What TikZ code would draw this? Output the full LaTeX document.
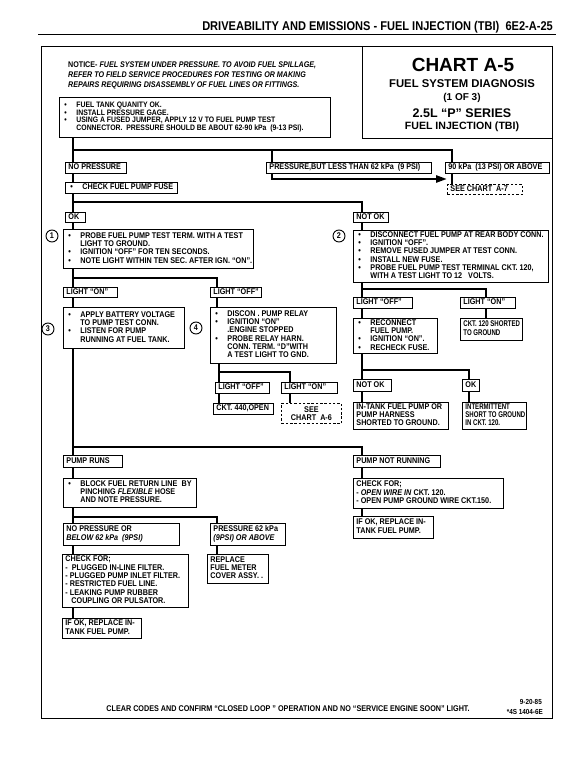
\documentclass[tikz,border=0pt]{standalone}
\usepackage{fontspec}
\usetikzlibrary{arrows.meta}
\newfontfamily\cf{Liberation Sans}[FakeStretch=0.87,Ligatures=TeX]
\newfontfamily\cfn{Liberation Sans}[FakeStretch=0.73,Ligatures=TeX]
\newfontfamily\tf{Liberation Sans}[Ligatures=TeX]
\pgfdeclarelayer{bg}
\pgfsetlayers{bg,main}
\newcommand\bu{\makebox[14pt][l]{\hspace{2pt}\textbullet}}
\newcommand\ind{\hspace*{14pt}}
\newcommand\bx[7][]{\pgfmathsetmacro\tw{#5-6}\node[box,minimum width=#5pt,minimum height=#6pt,#1] (#2) at (#3,#4) {\makebox[\tw pt][l]{\begin{tabular}{@{}l@{}}#7\end{tabular}}};}
\begin{document}
\begin{tikzpicture}[x=1pt,y=-1pt,
  box/.style={draw,line width=0.9pt,fill=white,anchor=north west,inner xsep=3pt,inner ysep=1pt,font=\cf\bfseries\fontsize{8.3}{8.3}\selectfont},
  dbox/.style={dash pattern=on 2.5pt off 1.8pt},
  flow/.style={line width=2.4pt},
  circ/.style={draw,circle,line width=0.9pt,fill=white,minimum size=12pt,inner sep=0pt,font=\cf\bfseries\fontsize{8.3}{8.3}\selectfont},
  ttl/.style={anchor=center,inner sep=0pt}]
\useasboundingbox (0,0) rectangle (576,768);
% header
\node[anchor=base east,inner sep=0pt,font=\cf\bfseries\fontsize{12.7}{12.7}\selectfont] (hdr) at (553,31) {DRIVEABILITY AND EMISSIONS - FUEL INJECTION (TBI)\ \ 6E2-A-25};
\coordinate (rl) at (38,35);
\coordinate (rr) at (556,35);
\draw[line width=1pt] (rl) -- (rr);
% frame and title
\node[draw,line width=1.2pt,anchor=north west,minimum width=511pt,minimum height=672pt,inner sep=0pt] (frame) at (41,46) {};
\node[draw,line width=1pt,anchor=north west,minimum width=190pt,minimum height=92pt,inner sep=0pt] (titlebox) at (362,46) {};
\node[ttl,font=\tf\bfseries\fontsize{19}{19}\selectfont] (t1) at (463,65) {CHART A-5};
\node[ttl,font=\tf\bfseries\fontsize{11.3}{11.3}\selectfont] (t2) at (462,84) {FUEL SYSTEM DIAGNOSIS};
\node[ttl,font=\tf\bfseries\fontsize{10}{10}\selectfont] (t3) at (462,98) {(1 OF 3)};
\node[ttl,font=\tf\bfseries\fontsize{12.5}{12.5}\selectfont] (t4) at (462,113) {2.5L “P” SERIES};
\node[ttl,font=\tf\bfseries\fontsize{10.6}{10.6}\selectfont] (t5) at (462,127) {FUEL INJECTION (TBI)};
% notice
\node[anchor=north west,inner sep=0pt,align=left,font=\cf\bfseries\fontsize{8.2}{10}\selectfont] (notice) at (68,62) {NOTICE- \textit{FUEL SYSTEM UNDER PRESSURE. TO AVOID FUEL SPILLAGE,}\\\textit{REFER TO FIELD SERVICE PROCEDURES FOR TESTING OR MAKING}\\\textit{REPAIRS REQUIRING DISASSEMBLY OF FUEL LINES OR FITTINGS.}};
% boxes
\bx[font=\cf\bfseries\fontsize{7.9}{7.3}\selectfont]{pre}{59}{97}{271}{40}{\bu FUEL TANK QUANITY OK.\\\bu INSTALL PRESSURE GAGE.\\\bu USING A FUSED JUMPER, APPLY 12 V TO FUEL PUMP TEST\\\ind CONNECTOR.\ \ PRESSURE SHOULD BE ABOUT 62-90 kPa\ \ (9-13 PSI).}
\bx{np}{65}{162}{61}{11}{NO PRESSURE}
\bx{pr}{266}{162}{165}{11}{PRESSURE,BUT LESS THAN 62 kPa\ \ (9\ PSI)}
\bx{p90}{445}{162}{104}{11}{90 kPa\ \ (13 PSI) OR ABOVE}
\bx[dbox]{see7}{447}{184}{75}{10}{SEE CHART\ \ A-7}
\bx{fuse}{65}{182}{112}{11}{\bu CHECK FUEL PUMP FUSE}
\bx{ok1}{65}{212}{20}{10}{OK}
\bx{nok1}{353}{212}{35}{10}{NOT OK}
\bx{s1}{63}{229}{190}{39}{\bu PROBE FUEL PUMP TEST TERM. WITH A TEST\\\ind LIGHT TO GROUND.\\\bu IGNITION ``OFF'' FOR TEN SECONDS.\\\bu NOTE LIGHT WITHIN TEN SEC. AFTER IGN. ``ON''.}
\bx{s2}{353}{230}{195}{52}{\bu DISCONNECT FUEL PUMP AT REAR BODY CONN.\\\bu IGNITION ``OFF''.\\\bu REMOVE FUSED JUMPER AT TEST CONN.\\\bu INSTALL NEW FUSE.\\\bu PROBE FUEL PUMP TEST TERMINAL CKT. 120,\\\ind WITH A TEST LIGHT TO 12\ \ \ VOLTS.}
\bx{lon1}{63}{287}{54}{10}{LIGHT ``ON''}
\bx{loff1}{210}{287}{51}{10}{LIGHT ``OFF''}
\bx{s3}{63}{307}{121}{41}{\bu APPLY BATTERY VOLTAGE\\\ind TO PUMP TEST CONN.\\\bu LISTEN FOR PUMP\\\ind RUNNING AT FUEL TANK.}
\bx{s4}{210}{307}{126}{56}{\bu DISCON . PUMP RELAY\\\bu IGNITION ``ON''\\\ind .ENGINE STOPPED\\\bu PROBE RELAY HARN.\\\ind CONN. TERM. ``D''WITH\\\ind A TEST LIGHT TO GND.}
\bx{loff2}{215}{382}{54}{11}{LIGHT ``OFF''}
\bx{lon2}{281}{382}{56}{11}{LIGHT ``ON''}
\bx{ckt440}{213}{403}{60}{11}{CKT. 440,OPEN}
\node[box,dbox,minimum width=60pt,minimum height=20pt,align=center] (see6) at (281,403) {SEE\\CHART\ \ A-6};
\bx{loff3}{353}{297}{59}{11}{LIGHT ``OFF''}
\bx{lon3}{460}{297}{55}{11}{LIGHT ``ON''}
\bx{recon}{353}{318}{84}{35}{\bu RECONNECT\\\ind FUEL PUMP.\\\bu IGNITION ``ON''.\\\bu RECHECK FUSE.}
\bx[font=\cfn\bfseries\fontsize{8.3}{8.3}\selectfont]{ckt120}{460}{318}{62}{22}{CKT. 120 SHORTED\\TO GROUND}
\bx{nok2}{353}{379}{38}{12}{NOT OK}
\bx{ok2}{462}{379}{17}{12}{OK}
\bx{intank}{353}{402}{95}{27}{IN-TANK FUEL PUMP OR\\PUMP HARNESS\\SHORTED TO GROUND.}
\bx[font=\cfn\bfseries\fontsize{8.3}{8.3}\selectfont]{interm}{462}{402}{64}{27}{INTERMITTENT\\SHORT TO GROUND\\IN CKT. 120.}
\bx{prun}{63}{455}{59}{12}{PUMP RUNS}
\bx{block}{63}{478}{133}{29}{\bu BLOCK FUEL RETURN LINE\ \ BY\\\ind PINCHING \textit{FLEXIBLE} HOSE\\\ind AND NOTE PRESSURE.}
\bx{nopr2}{63}{523}{116}{22}{NO PRESSURE OR\\\textit{BELOW 62 kPa\ \ (9PSI)}}
\bx{pr62}{210}{523}{75}{22}{PRESSURE 62 kPa\\\textit{(9PSI) OR ABOVE}}
\bx{chk1}{62}{554}{126}{53}{CHECK FOR;\\-\ \ PLUGGED IN-LINE FILTER.\\- PLUGGED PUMP INLET FILTER.\\- RESTRICTED FUEL LINE.\\- LEAKING PUMP RUBBER\\\hspace*{6pt}COUPLING OR PULSATOR.}
\bx{repl}{207}{554}{61}{29}{REPLACE\\FUEL METER\\COVER ASSY. .}
\bx{ifok1}{62}{618}{79}{20}{IF OK, REPLACE IN-\\TANK FUEL PUMP.}
\bx{pnr}{353}{455}{87}{12}{PUMP NOT\ RUNNING}
\bx{chk2}{353}{478}{150}{30}{CHECK FOR;\\- \textit{OPEN WIRE IN} CKT. 120.\\- OPEN PUMP GROUND WIRE CKT.150.}
\bx{ifok2}{353}{516}{80}{22}{IF OK, REPLACE IN-\\TANK FUEL PUMP.}
% circles
\node[circ] (c1) at (52,236) {1};
\node[circ] (c2) at (339,236) {2};
\node[circ] (c3) at (48,329) {3};
\node[circ] (c4) at (196,328) {4};
% footer
\node[anchor=base,inner sep=0pt,font=\cf\bfseries\fontsize{8.3}{8.3}\selectfont] (foot) at (288,711) {CLEAR CODES AND CONFIRM ``CLOSED LOOP '' OPERATION AND NO ``SERVICE ENGINE SOON'' LIGHT.};
\node[anchor=base east,inner sep=0pt,font=\cf\bfseries\fontsize{7.3}{7.3}\selectfont] (date) at (542,704) {9-20-85};
\node[anchor=base east,inner sep=0pt,font=\cf\bfseries\fontsize{7.3}{7.3}\selectfont] (code) at (543,714) {*4S 1404-6E};
% connector coordinates
\coordinate (xA) at (73,0);
\coordinate (xB) at (272,0);
\coordinate (xC) at (452,0);
\coordinate (xD) at (362,0);
\coordinate (xE) at (217,0);
\coordinate (xF) at (219,0);
\coordinate (xG) at (290,0);
\coordinate (xH) at (486,0);
\coordinate (xI) at (469,0);
\coordinate (yA) at (0,150);
\coordinate (yB) at (0,202);
\coordinate (yC) at (0,278);
\coordinate (yD) at (0,372);
\coordinate (yE) at (0,289);
\coordinate (yF) at (0,370);
\coordinate (yG) at (0,447);
\coordinate (yH) at (0,517);
\coordinate (arrEnd) at (447,179);
\begin{pgfonlayer}{bg}
\fill[white] (0,0) rectangle (576,768);
\draw[flow] (pre.south -| xA) -- (np.north -| xA);
\draw[flow,line join=miter] (xA |- yA) -- (xC |- yA) -- (p90.north -| xC);
\draw[flow] (xB |- yA) -- (pr.north -| xB);
\draw[flow,line join=miter,-{Triangle[length=11pt,width=7pt]}] (pr.south -| xB) |- (arrEnd);
\draw[flow] (p90.south -| xC) -- (see7.north -| xC);
\draw[flow] (np.south -| xA) -- (fuse.north -| xA);
\draw[flow] (fuse.south -| xA) -- (ok1.north -| xA);
\draw[flow,line join=miter] (xA |- yB) -- (xD |- yB) -- (nok1.north -| xD);
\draw[flow] (ok1.south -| xA) -- (s1.north -| xA);
\draw[flow] (s1.south -| xA) -- (lon1.north -| xA);
\draw[flow,line join=miter] (xA |- yC) -- (xE |- yC) -- (loff1.north -| xE);
\draw[flow] (lon1.south -| xA) -- (s3.north -| xA);
\draw[flow] (loff1.south -| xE) -- (s4.north -| xE);
\draw[flow] (s3.south -| xA) -- (prun.north -| xA);
\draw[flow,line join=miter] (xA |- yG) -- (xD |- yG) -- (pnr.north -| xD);
\draw[flow] (s4.south -| xF) -- (loff2.north -| xF);
\draw[flow,line join=miter] (xF |- yD) -- (xG |- yD) -- (lon2.north -| xG);
\draw[flow] (loff2.south -| xF) -- (ckt440.north -| xF);
\draw[flow] (lon2.south -| xG) -- (see6.north -| xG);
\draw[flow] (nok1.south -| xD) -- (s2.north -| xD);
\draw[flow] (s2.south -| xD) -- (loff3.north -| xD);
\draw[flow,line join=miter] (xD |- yE) -- (xH |- yE) -- (lon3.north -| xH);
\draw[flow] (loff3.south -| xD) -- (recon.north -| xD);
\draw[flow] (lon3.south -| xH) -- (ckt120.north -| xH);
\draw[flow] (recon.south -| xD) -- (nok2.north -| xD);
\draw[flow,line join=miter] (xD |- yF) -- (xI |- yF) -- (ok2.north -| xI);
\draw[flow] (nok2.south -| xD) -- (intank.north -| xD);
\draw[flow] (ok2.south -| xI) -- (interm.north -| xI);
\draw[flow] (prun.south -| xA) -- (block.north -| xA);
\draw[flow] (block.south -| xA) -- (nopr2.north -| xA);
\draw[flow,line join=miter] (xA |- yH) -- (xE |- yH) -- (pr62.north -| xE);
\draw[flow] (nopr2.south -| xA) -- (chk1.north -| xA);
\draw[flow] (pr62.south -| xE) -- (repl.north -| xE);
\draw[flow] (chk1.south -| xA) -- (ifok1.north -| xA);
\draw[flow] (pnr.south -| xD) -- (chk2.north -| xD);
\draw[flow] (chk2.south -| xD) -- (ifok2.north -| xD);
\end{pgfonlayer}
\end{tikzpicture}
\end{document}
